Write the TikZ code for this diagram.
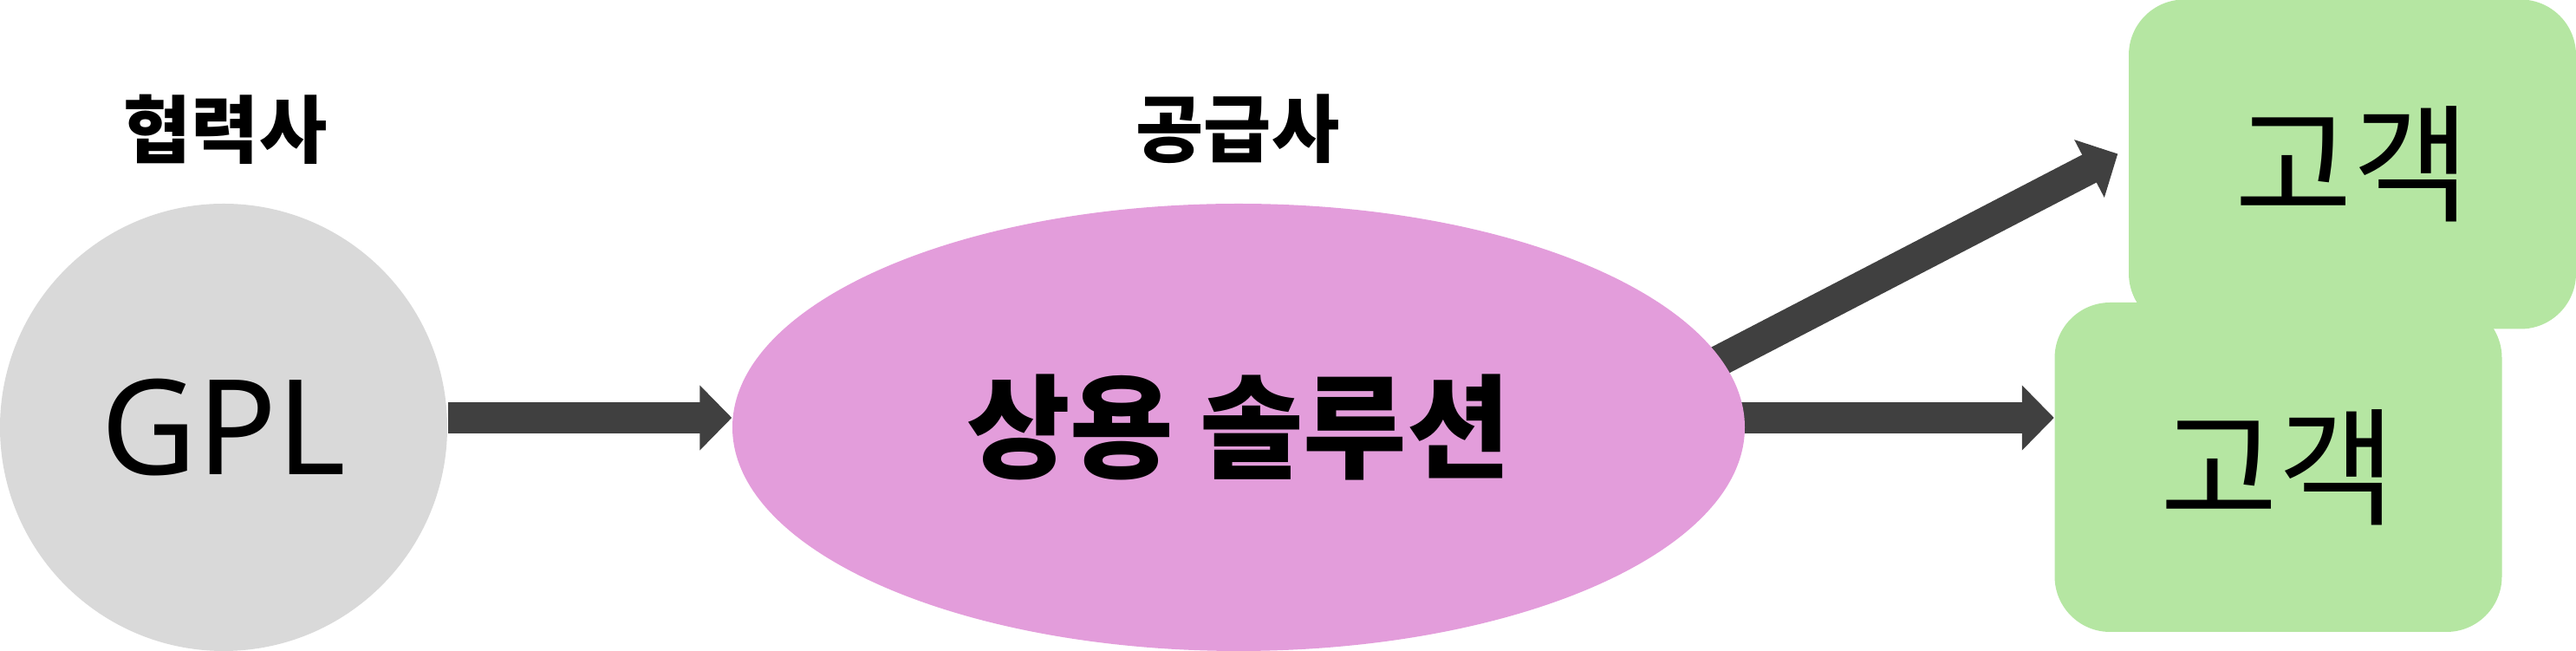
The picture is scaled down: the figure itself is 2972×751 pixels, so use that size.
\documentclass[tikz,border=0pt]{standalone}
\usepackage{fontspec}
\setmainfont{Noto Sans}
\newfontfamily\kr{Noto Sans CJK KR}
\usetikzlibrary{arrows.meta,calc,shapes.geometric}
\definecolor{gplgray}{HTML}{D9D9D9}
\definecolor{solpink}{HTML}{E39DDB}
\definecolor{custgreen}{HTML}{B5E6A2}
\definecolor{arrowgray}{HTML}{404040}
\pgfdeclarelayer{bg}
\pgfsetlayers{bg,main}
\begin{document}
\begin{tikzpicture}[x=0.1mm,y=-0.1mm,
  circ/.style={circle,fill=gplgray,minimum size=51.6mm,inner sep=0pt,
    font=\fontsize{43.4}{50}\selectfont},
  ell/.style={ellipse,fill=solpink,minimum width=116.8mm,minimum height=51.6mm,inner sep=0pt,
    font=\kr\bfseries\fontsize{37}{44}\selectfont},
  cust/.style={rectangle,rounded corners=6.4mm,fill=custgreen,minimum width=51.6mm,
    minimum height=38mm,inner sep=0pt,font=\kr\fontsize{42}{50}\selectfont},
  lab/.style={inner sep=0pt,font=\kr\bfseries\fontsize{24.2}{30}\selectfont},
  arr/.style={draw=arrowgray,line width=3.6mm,
    -{Triangle[length=3.7mm,width=7.3mm]}}]
\useasboundingbox (0,0) rectangle (2972,751);
\node[cust] (c1) at (2714,189.5) {고객};
\node[cust] (c2) at (2628.5,539) {고객};
\node[circ] (gpl) at (258,493) {GPL};
\node[ell] (sol) at (1429,493) {상용 솔루션};
\node[lab] (l1) at (260,149) {협력사};
\node[lab] (l2) at (1428,149) {공급사};
\coordinate (dtip) at ([shift={(-12,-12)}]c1.west);
\coordinate (re) at ([yshift=1.1mm]sol.east);
\begin{pgfonlayer}{bg}
\draw[arr] ([yshift=1.1mm]gpl.east) -- ([yshift=1.1mm]sol.west);
\draw[arr] ([xshift=-2mm]re) -- (re -| c2.west);
\draw[arr] ($(sol.8.5)!-4mm!(dtip)$) -- (dtip);
\end{pgfonlayer}
\end{tikzpicture}
\end{document}
